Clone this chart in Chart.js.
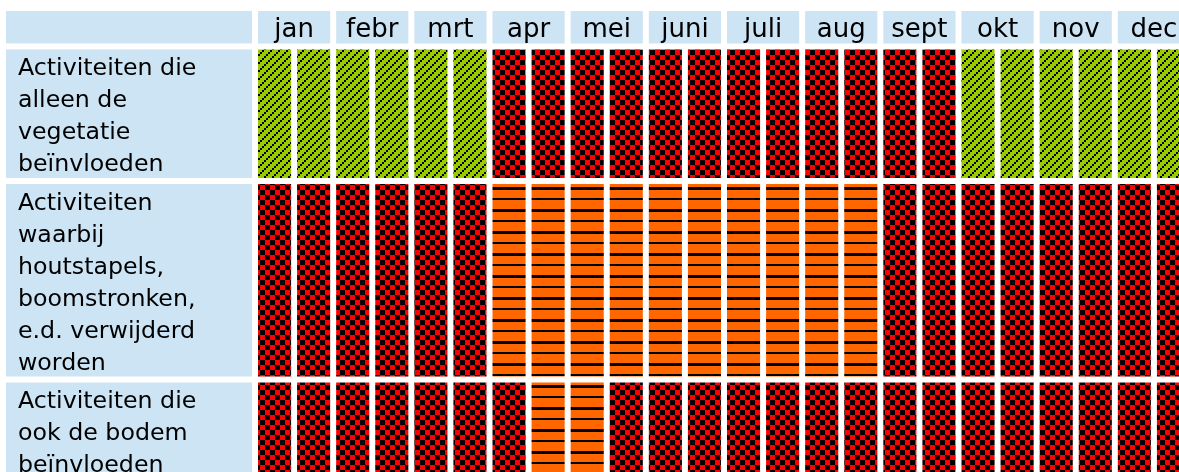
<!DOCTYPE html>
<html>
<head>
<meta charset="utf-8">
<script src="https://cdn.jsdelivr.net/npm/chart.js@4.4.0/dist/chart.umd.min.js"></script>
<style>
  html, body { margin: 0; padding: 0; background: #fff; overflow: hidden; }
  #clip { position: relative; width: 1179px; height: 472px; overflow: hidden; }
  #box { position: absolute; left: 0; top: 0; width: 1200px; height: 482px; }
</style>
</head>
<body>
<div id="clip"><div id="box"><canvas id="c"></canvas></div></div>
<script>
// ---------- data ----------
const months = ['jan', 'febr', 'mrt', 'apr', 'mei', 'juni', 'juli', 'aug', 'sept', 'okt', 'nov', 'dec'];
const halfMonths = months.flatMap(m => [m + ' (1e helft)', m + ' (2e helft)']);

const rowLabels = [
  ['Activiteiten die', 'alleen de', 'vegetatie', 'beïnvloeden'],
  ['Activiteiten', 'waarbij', 'houtstapels,', 'boomstronken,', 'e.d. verwijderd', 'worden'],
  ['Activiteiten die', 'ook de bodem', 'beïnvloeden']
];

// G = groen (toegestaan), O = oranje (met voorzorg), R = rood (niet toegestaan); per halve maand
const statusVegetatie = ['G','G','G','G','G','G','R','R','R','R','R','R','R','R','R','R','R','R','G','G','G','G','G','G'];
const statusHoutstapels = ['R','R','R','R','R','R','O','O','O','O','O','O','O','O','O','O','R','R','R','R','R','R','R','R'];
const statusBodem = ['R','R','R','R','R','R','R','O','O','R','R','R','R','R','R','R','R','R','R','R','R','R','R','R'];
const rowStatus = [statusVegetatie, statusHoutstapels, statusBodem];

// ---------- style ----------
const BLUE = '#CCE4F4';
const FONT = 'DejaVu Sans';
const CELL_PAD = 0.2;      // extra cell height in text-line units
const TEXT_SHIFT = 0.1;    // small downward shift of row label text
const GAP = 6;             // white gap between cells (px)
const LABEL_CELL_LEFT = 6;

function makePattern(w, h, bg, isBlack) {
  const c = document.createElement('canvas');
  c.width = w; c.height = h;
  const g = c.getContext('2d');
  g.fillStyle = bg; g.fillRect(0, 0, w, h);
  g.fillStyle = '#000';
  for (let y = 0; y < h; y++) for (let x = 0; x < w; x++) if (isBlack(x, y)) g.fillRect(x, y, 1, 1);
  return g.createPattern(c, 'repeat');
}
const fills = {
  G: makePattern(8, 8, '#99CC00', (x, y) => ((x >> 1) + (y >> 1)) % 4 === 0),
  R: makePattern(10, 10, '#FF0000', (x, y) => (Math.floor(x / 5) + Math.floor(y / 5)) % 2 === 0),
  O: makePattern(1, 22, '#FF6600', (x, y) => y < 2 || (y >= 11 && y < 14))
};

// ---------- layout in line units (y) ----------
const headerRange = [0, 1 + CELL_PAD];
const rowRanges = [];
let acc = headerRange[1];
rowLabels.forEach(lines => { const s = acc; acc += lines.length + CELL_PAD; rowRanges.push([s, acc]); });
const yMax = acc;

const common = {
  borderColor: '#ffffff', borderWidth: GAP / 2, borderSkipped: false,
  grouped: false, barPercentage: 1, categoryPercentage: 1, inflateAmount: 0
};

const datasets = [
  Object.assign({ label: 'maand', xAxisID: 'xm', yAxisID: 'y',
    data: months.map(() => headerRange), backgroundColor: BLUE }, common)
].concat(rowStatus.map((st, r) => Object.assign({
  label: rowLabels[r].join(' '), xAxisID: 'x', yAxisID: 'y',
  data: st.map(() => rowRanges[r]),
  backgroundColor: st.map(s => fills[s])
}, common)));

const labelCells = {
  id: 'labelCells',
  beforeDraw(chart) {
    const { ctx, chartArea } = chart;
    const y = chart.scales.y;
    const right = chartArea.left - GAP / 2;
    ctx.save();
    ctx.fillStyle = BLUE;
    [headerRange].concat(rowRanges).forEach(([a, b]) => {
      const top = y.getPixelForValue(a) + GAP / 2;
      const bottom = y.getPixelForValue(b) - GAP / 2;
      ctx.fillRect(LABEL_CELL_LEFT, top, right - LABEL_CELL_LEFT, bottom - top);
    });
    ctx.restore();
  }
};

new Chart(document.getElementById('c'), {
  type: 'bar',
  data: { labels: halfMonths, datasets },
  plugins: [labelCells],
  options: {
    responsive: true,
    maintainAspectRatio: false,
    animation: false,
    layout: { padding: { left: 18, top: 8, right: 7, bottom: 0 } },
    plugins: { legend: { display: false }, tooltip: { enabled: false } },
    scales: {
      x: { type: 'category', display: false, offset: true, grid: { display: false } },
      xm: {
        type: 'category', labels: months, position: 'top', offset: true,
        grid: { display: false, drawTicks: false }, border: { display: false },
        ticks: { z: 1, mirror: true, padding: 7, maxRotation: 0, autoSkip: false, color: '#000',
          font: { family: FONT, size: 26 } },
        afterFit: s => { s.height = 0; s.paddingLeft = 0; s.paddingRight = 0; }
      },
      y: {
        type: 'linear', reverse: true, min: 0, max: yMax,
        grid: { display: false, drawTicks: false }, border: { display: false },
        afterBuildTicks: s => { s.ticks = rowRanges.map(b => ({ value: (b[0] + b[1]) / 2 + TEXT_SHIFT })); },
        ticks: { autoSkip: false, crossAlign: 'far', color: '#000',
          font: { family: FONT, size: 23.7, lineHeight: '32px' },
          callback: (v, i) => rowLabels[i] },
        afterFit: s => { s.width = 237; s.paddingTop = 0; s.paddingBottom = 0; }
      }
    }
  }
});
</script>
</body>
</html>
